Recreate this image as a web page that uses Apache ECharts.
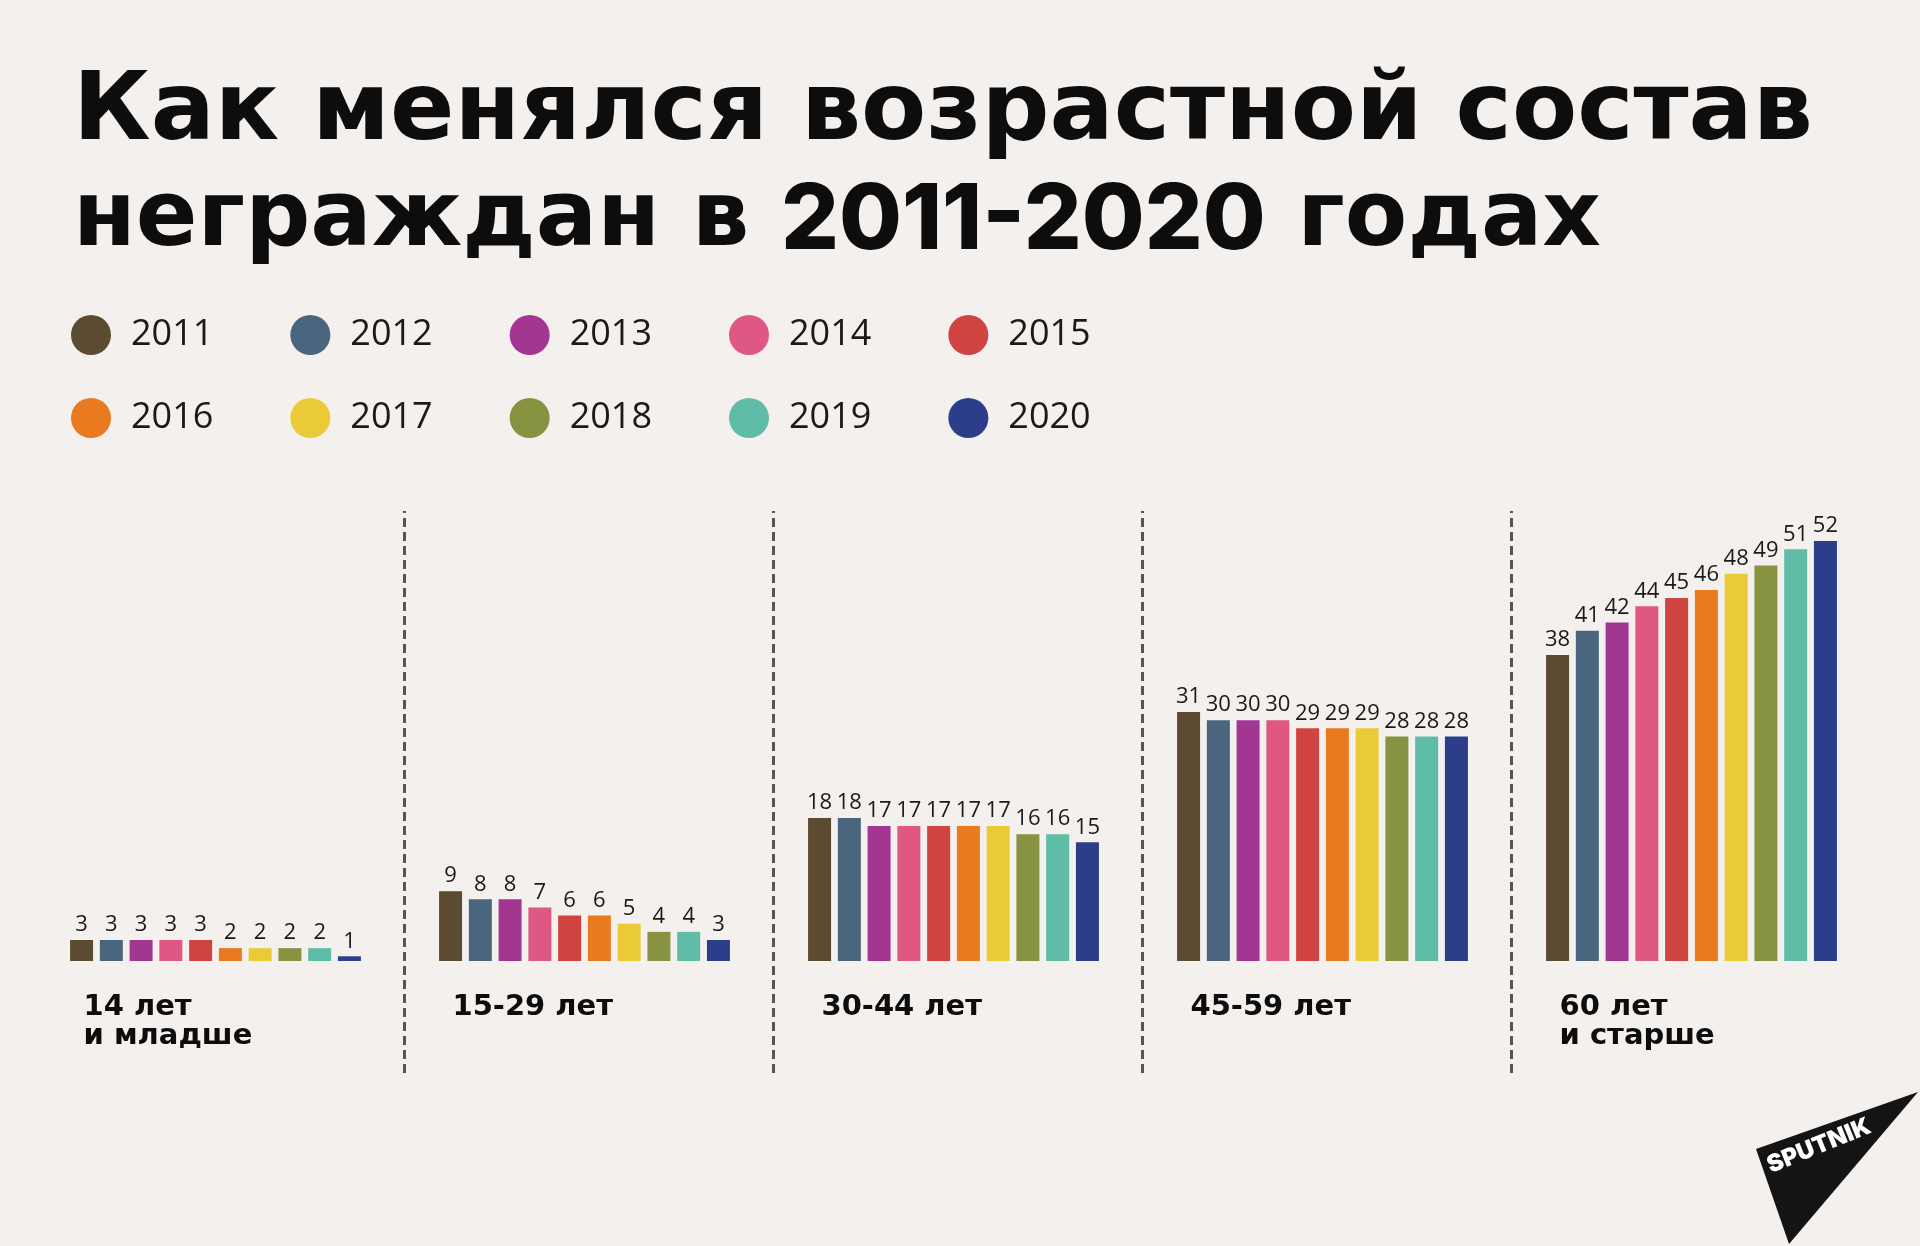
<!DOCTYPE html>
<html>
<head>
<meta charset="utf-8">
<script src="https://cdn.jsdelivr.net/npm/echarts@6/dist/echarts.min.js"></script>
<style>
html,body{margin:0;padding:0;background:#f4f0ee;}
#main{width:1920px;height:1246px;}
</style>
</head>
<body>
<div id="main"></div>
<script>
// ---- data ----
const categories = ['14 лет\nи младше', '15-29 лет', '30-44 лет', '45-59 лет', '60 лет\nи старше'];
const years = ['2011', '2012', '2013', '2014', '2015', '2016', '2017', '2018', '2019', '2020'];
const age0to14 = [3, 3, 3, 3, 3, 2, 2, 2, 2, 1];
const age15to29 = [9, 8, 8, 7, 6, 6, 5, 4, 4, 3];
const age30to44 = [18, 18, 17, 17, 17, 17, 17, 16, 16, 15];
const age45to59 = [31, 30, 30, 30, 29, 29, 29, 28, 28, 28];
const age60plus = [38, 41, 42, 44, 45, 46, 48, 49, 51, 52];
const colors = ['#5c4a31', '#4a667e', '#a33690', '#df5884', '#cf4341', '#e97a1f', '#eaca37', '#879340', '#5fbda7', '#2c3e8a'];

const groups = [age0to14, age15to29, age30to44, age45to59, age60plus];

const chart = echarts.init(document.getElementById('main'), null, {renderer: 'canvas'});

const barSeries = years.map((y, i) => ({
  name: y,
  type: 'bar',
  xAxisIndex: 0,
  yAxisIndex: 0,
  data: groups.map(g => g[i]),
  barWidth: 23,
  barGap: '29.4%',
  itemStyle: {color: colors[i]},
  label: {
    show: true,
    position: 'top',
    distance: 4,
    fontSize: 22,
    fontFamily: 'Open Sans',
    color: '#1a1a1a'
  }
}));

const legendCommon = {
  icon: 'circle',
  itemWidth: 40,
  itemHeight: 40,
  itemGap: 77,
  left: 66,
  orient: 'horizontal',
  selectedMode: false,
  textStyle: {
    fontSize: 36,
    fontFamily: 'Open Sans',
    color: '#1a1a1a',
    padding: [0, 0, 0, 15],
    width: 120
  }
};

const option = {
  backgroundColor: '#f4f0ee',
  animation: false,
  color: colors,
  title: {
    text: '{a1|Как менялся возрастной состав}\n{a2|неграждан в }{b2|2011-2020}{a2| годах}',
    left: 68,
    top: 56,
    textStyle: {
      rich: {
        a1: {
          fontSize: 95,
          fontWeight: 'bold',
          fontFamily: 'DejaVu Sans',
          color: '#0d0d0d',
          lineHeight: 107
        },
        a2: {
          fontSize: 91,
          fontWeight: 'bold',
          fontFamily: 'DejaVu Sans',
          color: '#0d0d0d',
          lineHeight: 107
        },
        b2: {
          fontSize: 91,
          fontWeight: 800,
          fontFamily: 'Inter',
          color: '#0d0d0d',
          lineHeight: 107
        }
      }
    }
  },
  legend: [
    Object.assign({}, legendCommon, {top: 310, data: years.slice(0, 5)}),
    Object.assign({}, legendCommon, {top: 393, data: years.slice(5)})
  ],
  grid: [
    {left: 31, width: 1845, top: 476, bottom: 285, containLabel: false},
    {left: 35, width: 1845, top: 511, bottom: 173, containLabel: false}
  ],
  xAxis: [
    {
      type: 'category',
      gridIndex: 0,
      data: categories,
      axisLine: {show: false},
      axisTick: {show: false},
      splitLine: {show: false},
      axisLabel: {
        margin: 32,
        interval: 0,
        formatter: v => v.split('\n').map(l => '{a|' + l + '}').join('\n'),
        rich: {
          a: {
            width: 264,
            align: 'left',
            fontSize: 29,
            fontWeight: 'bold',
            fontFamily: 'DejaVu Sans',
            color: '#0d0d0d',
            lineHeight: 29
          }
        }
      }
    },
    {type: 'value', gridIndex: 1, min: 0, max: 5, show: false}
  ],
  yAxis: [
    {type: 'value', gridIndex: 0, min: 0.42, max: 60, show: false},
    {type: 'value', gridIndex: 1, min: 0, max: 1, show: false}
  ],
  series: barSeries.concat([{
    type: 'line',
    xAxisIndex: 1,
    yAxisIndex: 1,
    data: [[0, 0]],
    showSymbol: false,
    symbol: 'none',
    lineStyle: {opacity: 0},
    silent: true,
    markLine: {
      silent: true,
      symbol: 'none',
      label: {show: false},
      lineStyle: {color: '#555555', width: 3, type: [9, 5]},
      data: [{xAxis: 1}, {xAxis: 2}, {xAxis: 3}, {xAxis: 4}]
    }
  }]),
  graphic: [
    {
      type: 'polygon',
      shape: {points: [[1756, 1149], [1918, 1092], [1789, 1244]]},
      style: {fill: '#141414'},
      silent: true
    },
    {
      type: 'text',
      x: 1819,
      y: 1146,
      rotation: 22 * Math.PI / 180,
      style: {
        text: 'SPUTNIK',
        fill: '#ffffff',
        fontSize: 24,
        fontWeight: 900,
        fontFamily: 'Inter',
        align: 'center',
        verticalAlign: 'middle'
      },
      silent: true
    }
  ]
};

chart.setOption(option);
</script>
</body>
</html>
